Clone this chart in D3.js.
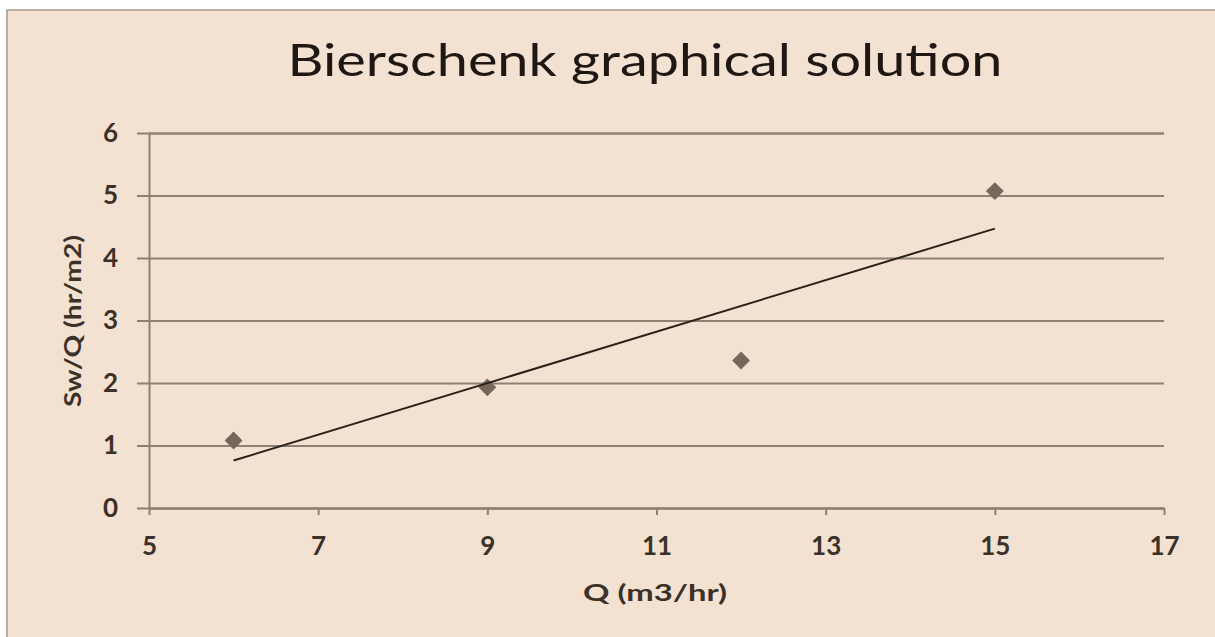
<!DOCTYPE html>
<html>
<head>
<meta charset="utf-8">
<script src="https://cdn.jsdelivr.net/npm/d3@7"></script>
<style>
  body { margin: 0; background: #fff; }
  text { font-family: Lato, "Open Sans", sans-serif; }
</style>
</head>
<body>
<svg width="1215" height="637"></svg>

<script>

// measured points (Q in m3/hr, Sw/Q in hr/m2)
var qValues = [6, 9, 12, 15];
var swqValues = [1.08, 1.93, 2.36, 5.07];

// linear trendline end points, as drawn
var trendQ = [6, 15];
var trendSwq = [0.76, 4.47];

var xTicks = [5, 7, 9, 11, 13, 15, 17];
var yTicks = [0, 1, 2, 3, 4, 5, 6];

var svg = d3.select("svg");

var x = d3.scaleLinear().domain([5, 17]).range([149, 1164]),
    y = d3.scaleLinear().domain([0, 6]).range([508, 133]);

var ink = "#3b3129",
    grid = "#8e8172";

// chart area
svg.append("rect")
    .attr("x", 7).attr("y", 10)
    .attr("width", 1215).attr("height", 640)
    .attr("fill", "#f3e2d1")
    .attr("stroke", "#a8968a")
    .attr("stroke-width", 1.5);

svg.append("text")
    .attr("x", 645).attr("y", 76)
    .attr("text-anchor", "middle")
    .attr("font-size", 45)
    .attr("textLength", 715)
    .attr("lengthAdjust", "spacingAndGlyphs")
    .attr("fill", "#1e1714")
    .text("Bierschenk graphical solution");

// horizontal gridlines double as y axis ticks
var yAxis = d3.axisLeft(y)
    .tickValues(yTicks)
    .tickFormat(d3.format("d"))
    .tickSize(-(x.range()[1] - x.range()[0]))
    .tickPadding(31);

svg.append("g")
    .attr("transform", "translate(" + x(5) + ",0)")
    .call(yAxis)
    .call(function(g) {
      g.select(".domain").attr("stroke", grid).attr("stroke-width", 2);
      g.selectAll(".tick line").attr("stroke", grid).attr("stroke-width", 2).attr("x1", -12);
      g.selectAll(".tick text")
          .attr("fill", ink)
          .attr("font-size", 26)
          .attr("font-weight", "bold")
          .attr("font-family", "Lato, sans-serif");
    });

var xAxis = d3.axisBottom(x)
    .tickValues(xTicks)
    .tickFormat(d3.format("d"))
    .tickSize(7)
    .tickSizeOuter(0)
    .tickPadding(22);

svg.append("g")
    .attr("transform", "translate(0," + y(0) + ")")
    .call(xAxis)
    .call(function(g) {
      g.select(".domain").attr("stroke", grid).attr("stroke-width", 2);
      g.selectAll(".tick line").attr("stroke", grid).attr("stroke-width", 2);
      g.selectAll(".tick text")
          .attr("fill", ink)
          .attr("font-size", 26)
          .attr("font-weight", "bold")
          .attr("font-family", "Lato, sans-serif");
    });

svg.append("text")
    .attr("x", 655).attr("y", 601)
    .attr("text-anchor", "middle")
    .attr("font-size", 23)
    .attr("font-weight", "bold")
    .attr("textLength", 144)
    .attr("lengthAdjust", "spacingAndGlyphs")
    .attr("fill", ink)
    .text("Q (m3/hr)");

svg.append("text")
    .attr("transform", "translate(81,321) rotate(-90)")
    .attr("text-anchor", "middle")
    .attr("font-size", 23)
    .attr("font-weight", "bold")
    .attr("textLength", 172)
    .attr("lengthAdjust", "spacingAndGlyphs")
    .attr("fill", ink)
    .text("Sw/Q (hr/m2)");

// points
var diamond = d3.symbol().type(d3.symbolSquare).size(160);

svg.append("g")
  .selectAll("path")
  .data(d3.zip(qValues, swqValues))
  .enter().append("path")
    .attr("d", diamond)
    .attr("transform", function(d) { return "translate(" + x(d[0]) + "," + y(d[1]) + ") rotate(45)"; })
    .attr("fill", "#75675b");

// trendline
svg.append("path")
    .datum(d3.zip(trendQ, trendSwq))
    .attr("fill", "none")
    .attr("stroke", "#2a211b")
    .attr("stroke-width", 2)
    .attr("d", d3.line()
        .x(function(d) { return x(d[0]); })
        .y(function(d) { return y(d[1]); }));

</script>
</body>
</html>
